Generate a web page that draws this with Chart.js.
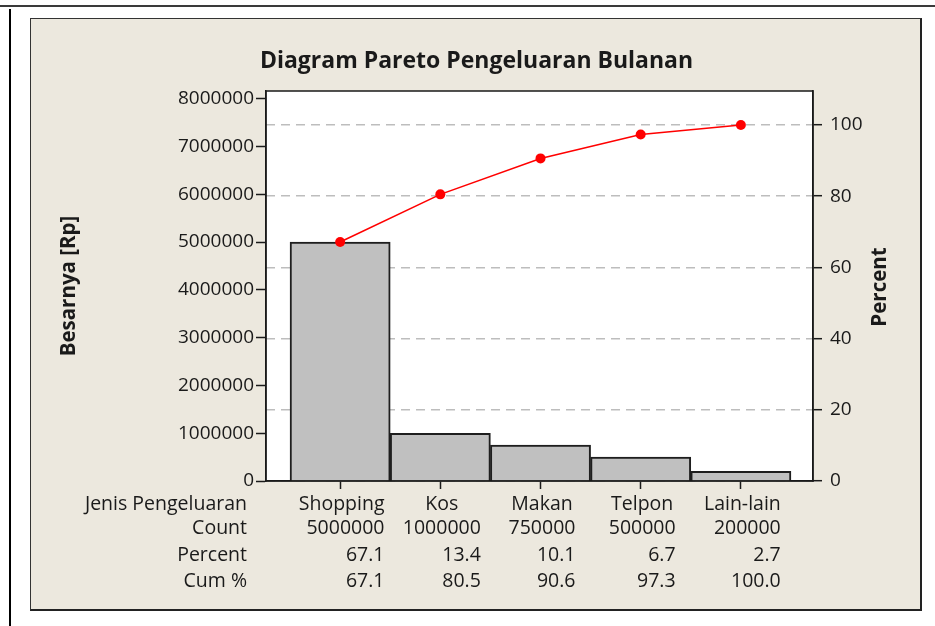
<!DOCTYPE html>
<html>
<head>
<meta charset="utf-8">
<script src="https://cdn.jsdelivr.net/npm/chart.js@4"></script>
<style>
  html, body { margin: 0; padding: 0; background: #ffffff; width: 935px; height: 626px; overflow: hidden; }
  #topline { position: absolute; left: 0; top: 5px; width: 935px; height: 2px; background: #3a3a3a; }
  #leftline { position: absolute; left: 9px; top: 9px; width: 2px; height: 617px; background: #000; }
  #panel { position: absolute; left: 30px; top: 18px; width: 889px; height: 590px;
           background: #ece8de; border-top: 1px solid #333; border-left: 1px solid #333;
           border-right: 2px solid #222; border-bottom: 2px solid #222; }
  #c { position: absolute; left: 0; top: 0; }
</style>
</head>
<body>
<div id="topline"></div>
<div id="leftline"></div>
<div id="panel"></div>
<canvas id="c" width="935" height="626"></canvas>
<script>
// ---- data ----
const categories = ['Shopping', 'Kos', 'Makan', 'Telpon', 'Lain-lain'];
const counts = [5000000, 1000000, 750000, 500000, 200000];
const percents = ['67.1', '13.4', '10.1', '6.7', '2.7'];
const cumPercents = [67.1, 80.5, 90.6, 97.3, 100.0];
const cumLabels = ['67.1', '80.5', '90.6', '97.3', '100.0'];
const rowLabels = ['Jenis Pengeluaran', 'Count', 'Percent', 'Cum %'];
const leftTicks = [0, 1000000, 2000000, 3000000, 4000000, 5000000, 6000000, 7000000, 8000000];
const rightTicks = [0, 20, 40, 60, 80, 100];
const leftMax = 8160000;
const total = counts.reduce((a, b) => a + b, 0);
const rightMax = leftMax / total * 100;

const FONT = '"Open Sans", "DejaVu Sans", sans-serif';
const TXT = '#1a1a1a';

const framePlugin = {
  id: 'frame',
  beforeDraw(chart) {
    const { ctx, chartArea: a } = chart;
    ctx.save();
    ctx.fillStyle = '#ffffff';
    ctx.fillRect(a.left, a.top, a.right - a.left, a.bottom - a.top);
    ctx.restore();
  },
  afterDraw(chart) {
    const { ctx, chartArea: a, scales } = chart;
    ctx.save();
    ctx.strokeStyle = '#1a1a1a';
    ctx.lineWidth = 1.5;
    ctx.strokeRect(a.left, a.top, a.right - a.left, a.bottom - a.top);

    // right axis title (reads bottom-to-top)
    ctx.fillStyle = TXT;
    ctx.font = 'bold 20.5px ' + FONT;
    ctx.textAlign = 'center';
    ctx.textBaseline = 'middle';
    ctx.translate(880, 287);
    ctx.rotate(-Math.PI / 2);
    ctx.fillText('Percent', 0, 0);
    ctx.setTransform(1, 0, 0, 1, 0, 0);

    // table under the axis
    ctx.font = '19.5px ' + FONT;
    ctx.textBaseline = 'alphabetic';
    const rowY = [510, 534, 561, 587];
    ctx.textAlign = 'right';
    rowLabels.forEach((t, r) => ctx.fillText(t, 247, rowY[r]));
    const x = scales.x;
    categories.forEach((cat, i) => {
      const col = [cat, String(counts[i]), percents[i], cumLabels[i]];
      const w = Math.max(...col.map(s => ctx.measureText(s).width));
      const cx = x.getPixelForValue(i) + 1.5;
      const right = cx + w / 2;
      ctx.textAlign = 'center';
      ctx.fillText(col[0], cx, rowY[0]);
      ctx.textAlign = 'right';
      for (let r = 1; r < 4; r++) ctx.fillText(col[r], right, rowY[r]);
    });
    ctx.restore();
  }
};

new Chart(document.getElementById('c'), {
  data: {
    datasets: [
      {
        type: 'line',
        label: 'Cum %',
        yAxisID: 'y1',
        data: cumPercents.map((v, i) => ({ x: i, y: v })),
        borderColor: '#ff0000',
        backgroundColor: '#ff0000',
        borderWidth: 1.6,
        pointRadius: 5,
        pointBorderWidth: 0,
        pointBackgroundColor: '#ff0000',
        tension: 0,
        order: 1
      },
      {
        type: 'bar',
        label: 'Count',
        yAxisID: 'y',
        data: counts.map((v, i) => ({ x: i, y: v })),
        backgroundColor: '#c0c0c0',
        borderColor: '#1e1e1e',
        borderWidth: 2,
        barPercentage: 1,
        categoryPercentage: 1,
        order: 2
      }
    ]
  },
  options: {
    responsive: false,
    animation: false,
    layout: { padding: { left: 18, right: 0, top: 0, bottom: 0 } },
    plugins: {
      legend: { display: false },
      tooltip: { enabled: false },
      title: {
        display: true,
        text: 'Diagram Pareto Pengeluaran Bulanan',
        color: TXT,
        font: { family: FONT, size: 23, weight: 'bold', lineHeight: 1.2 },
        padding: { top: 47.2, bottom: 16.2 }
      }
    },
    scales: {
      x: {
        type: 'linear',
        position: 'bottom',
        offset: false,
        min: -0.74,
        max: 4.72,
        afterBuildTicks: s => { s.ticks = categories.map((_, i) => ({ value: i })); },
        afterFit: s => { s.height = 145; },
        ticks: { callback: () => '', padding: 0 },
        grid: { offset: false, drawOnChartArea: false, drawTicks: true, tickLength: 8, tickColor: '#1a1a1a', tickWidth: 1.5 },
        border: { display: true, color: '#1a1a1a', width: 1.5 }
      },
      y: {
        type: 'linear',
        position: 'left',
        min: 0,
        max: leftMax,
        afterBuildTicks: s => { s.ticks = leftTicks.map(v => ({ value: v })); },
        afterFit: s => { s.width = 248; },
        ticks: { color: TXT, padding: 2, font: { family: FONT, size: 19 }, callback: v => String(v) },
        grid: { drawOnChartArea: false, drawTicks: true, tickLength: 10, tickColor: '#1a1a1a', tickWidth: 1.5 },
        border: { display: true, color: '#1a1a1a', width: 1.5 },
        title: { display: true, text: 'Besarnya [Rp]', color: TXT,
                 font: { family: FONT, size: 20.5, weight: 'bold', lineHeight: 1.2 },
                 padding: { top: 38.7, bottom: 0 } }
      },
      y1: {
        type: 'linear',
        position: 'right',
        min: 0,
        max: rightMax,
        afterBuildTicks: s => { s.ticks = rightTicks.map(v => ({ value: v })); },
        afterFit: s => { s.width = 122; },
        ticks: { color: TXT, padding: 8, font: { family: FONT, size: 19 } },
        grid: { drawOnChartArea: true, color: '#bdbdbd', lineWidth: 1.4,
                drawTicks: true, tickLength: 9, tickColor: '#1a1a1a', tickWidth: 1.5, tickBorderDash: [] },
        border: { display: true, color: '#1a1a1a', width: 1.5, dash: [9, 6] }
      }
    }
  },
  plugins: [framePlugin]
});
</script>
</body>
</html>
